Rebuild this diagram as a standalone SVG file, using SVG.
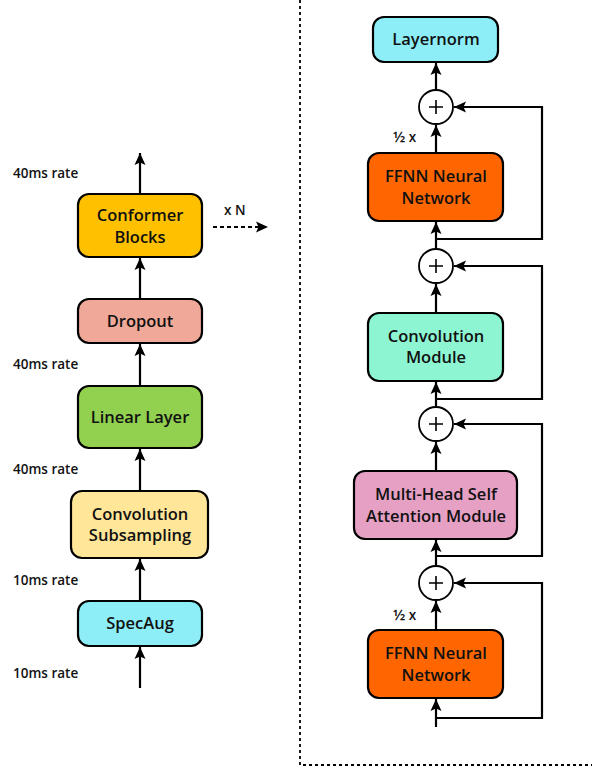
<svg xmlns="http://www.w3.org/2000/svg" width="592" height="771" viewBox="0 0 592 771">
<style>
.box{stroke:#000;stroke-width:2.2}
.lbl{font-family:"Open Sans","Noto Sans","Liberation Sans",sans-serif;font-size:16.5px;font-weight:600;fill:#111;text-anchor:middle}
.rate{font-family:"Open Sans","Noto Sans","Liberation Sans",sans-serif;font-size:13.5px;font-weight:600;fill:#111}
.ln{fill:none;stroke:#000;stroke-width:2.2}
.plus{fill:#fff;stroke:#000;stroke-width:1.8}
</style>
<defs>
<marker id="ah" markerUnits="userSpaceOnUse" markerWidth="14" markerHeight="14" viewBox="0 0 14 14" refX="12" refY="7" orient="auto">
<path d="M0,1.5 L12,7 L0,12.5 L2.5,7 z" fill="#000"/>
</marker>
</defs>
<rect width="592" height="771" fill="#fff"/>
<g id="frame">
<path d="M300,0 V765 H592" fill="none" stroke="#000" stroke-width="1.8" stroke-dasharray="3,3"/>
</g>
<g id="connectors">
<path class="ln" d="M140,688 V647" marker-end="url(#ah)"/>
<path class="ln" d="M140,601 V559" marker-end="url(#ah)"/>
<path class="ln" d="M140,491 V449" marker-end="url(#ah)"/>
<path class="ln" d="M140,386 V344" marker-end="url(#ah)"/>
<path class="ln" d="M140,299 V258" marker-end="url(#ah)"/>
<path class="ln" d="M140,194 V153" marker-end="url(#ah)"/>
<path class="ln" d="M213,227 H268" stroke-dasharray="4,3" marker-end="url(#ah)"/>
<path class="ln" d="M436,727 V699" marker-end="url(#ah)"/>
<path class="ln" d="M436,718 H542 V583 H454" marker-end="url(#ah)"/>
<path class="ln" d="M436,630 V601" marker-end="url(#ah)"/>
<path class="ln" d="M436,566 V540" marker-end="url(#ah)"/>
<path class="ln" d="M436,556 H542 V424 H454" marker-end="url(#ah)"/>
<path class="ln" d="M436,471 V442" marker-end="url(#ah)"/>
<path class="ln" d="M436,407 V382" marker-end="url(#ah)"/>
<path class="ln" d="M436,399 H542 V266 H454" marker-end="url(#ah)"/>
<path class="ln" d="M436,313 V284" marker-end="url(#ah)"/>
<path class="ln" d="M436,249 V222" marker-end="url(#ah)"/>
<path class="ln" d="M436,239 H542 V107 H454" marker-end="url(#ah)"/>
<path class="ln" d="M436,153 V125" marker-end="url(#ah)"/>
<path class="ln" d="M436,90 V63" marker-end="url(#ah)"/>
</g>
<g id="rates">
<text class="rate" x="13" y="178">40ms rate</text>
<text class="rate" x="13" y="369">40ms rate</text>
<text class="rate" x="13" y="474">40ms rate</text>
<text class="rate" x="13" y="585">10ms rate</text>
<text class="rate" x="13" y="678">10ms rate</text>
<text class="rate" x="224" y="215">x N</text>
<text class="rate" x="393" y="142"><tspan font-size="15px">½</tspan> x</text>
<text class="rate" x="393" y="620"><tspan font-size="15px">½</tspan> x</text>
</g>
<g id="conformer"><rect class="box" x="78" y="194" width="124" height="63" rx="11" fill="#FFC000"/><text class="lbl" x="140" y="221">Conformer</text><text class="lbl" x="140" y="243">Blocks</text></g>
<g id="dropout"><rect class="box" x="78" y="299" width="124" height="44" rx="11" fill="#F0A898"/><text class="lbl" x="140" y="327">Dropout</text></g>
<g id="linear"><rect class="box" x="78" y="386" width="124" height="62" rx="11" fill="#92D050"/><text class="lbl" x="140" y="423">Linear Layer</text></g>
<g id="convsub"><rect class="box" x="71" y="491" width="137" height="67" rx="11" fill="#FFE699"/><text class="lbl" x="140" y="520">Convolution</text><text class="lbl" x="140" y="541">Subsampling</text></g>
<g id="specaug"><rect class="box" x="78" y="601" width="124" height="45" rx="11" fill="#8EEEF8"/><text class="lbl" x="140" y="629">SpecAug</text></g>
<g id="layernorm"><rect class="box" x="373" y="17" width="125" height="45" rx="11" fill="#8EEEF8"/><text class="lbl" x="436" y="45">Layernorm</text></g>
<g id="plus1"><circle class="plus" cx="436" cy="107" r="17"/><path d="M429,107 H443 M436,100 V114" stroke="#000" stroke-width="1.6"/></g>
<g id="ffnn1"><rect class="box" x="368" y="153" width="135" height="68" rx="11" fill="#FF6600"/><text class="lbl" x="436" y="182">FFNN Neural</text><text class="lbl" x="436" y="204">Network</text></g>
<g id="plus2"><circle class="plus" cx="436" cy="266" r="17"/><path d="M429,266 H443 M436,259 V273" stroke="#000" stroke-width="1.6"/></g>
<g id="convmod"><rect class="box" x="368" y="313" width="135" height="68" rx="11" fill="#8EF5D2"/><text class="lbl" x="436" y="342">Convolution</text><text class="lbl" x="436" y="363">Module</text></g>
<g id="plus3"><circle class="plus" cx="436" cy="424" r="17"/><path d="M429,424 H443 M436,417 V431" stroke="#000" stroke-width="1.6"/></g>
<g id="mhsa"><rect class="box" x="354" y="471" width="163" height="68" rx="11" fill="#E6A0C4"/><text class="lbl" x="436" y="500">Multi-Head Self</text><text class="lbl" x="436" y="522">Attention Module</text></g>
<g id="plus4"><circle class="plus" cx="436" cy="583" r="17"/><path d="M429,583 H443 M436,576 V590" stroke="#000" stroke-width="1.6"/></g>
<g id="ffnn2"><rect class="box" x="368" y="630" width="135" height="68" rx="11" fill="#FF6600"/><text class="lbl" x="436" y="659">FFNN Neural</text><text class="lbl" x="436" y="681">Network</text></g>
</svg>
